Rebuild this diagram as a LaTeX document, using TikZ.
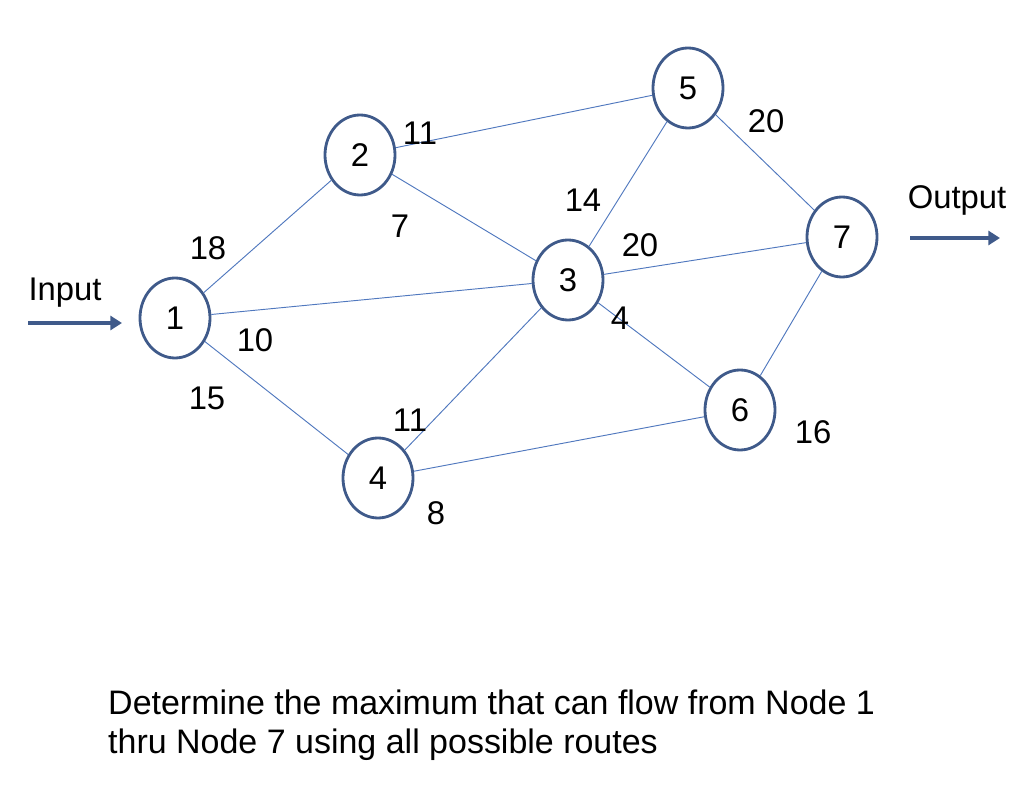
\documentclass[tikz,border=0pt]{standalone}
\usepackage{fontspec}
\setmainfont{Liberation Sans}
\usetikzlibrary{shapes.geometric,arrows.meta}
\begin{document}
\begin{tikzpicture}[x=0.03cm,y=-0.03cm,
 nd/.style={ellipse,draw=nodeblue,line width=2.4pt,minimum width=2.1cm,minimum height=2.4cm,inner sep=0pt,font=\fontsize{28}{32}\selectfont},
 ed/.style={draw=edgeblue,line width=0.8pt},
 lb/.style={font=\fontsize{28}{32}\selectfont,inner sep=0pt},
 big/.style={-{Triangle[length=10pt,width=12pt]},draw=nodeblue,fill=nodeblue,line width=4pt}]
\definecolor{nodeblue}{HTML}{3F5A8A}
\definecolor{edgeblue}{HTML}{5078BE}
\useasboundingbox (0,0) rectangle (1024,797);
\node[nd] (n1) at (175,318) {1};
\node[nd] (n2) at (360,155) {2};
\node[nd] (n3) at (568,280) {3};
\node[nd] (n4) at (378,478) {4};
\node[nd] (n5) at (688,88) {5};
\node[nd] (n6) at (740,410) {6};
\node[nd] (n7) at (842,237) {7};
\draw[ed] (n1)--(n2); \draw[ed] (n1)--(n3); \draw[ed] (n1)--(n4);
\draw[ed] (n2)--(n5); \draw[ed] (n2)--(n3); \draw[ed] (n4)--(n3);
\draw[ed] (n4)--(n6); \draw[ed] (n3)--(n5); \draw[ed] (n3)--(n7);
\draw[ed] (n3)--(n6); \draw[ed] (n5)--(n7); \draw[ed] (n6)--(n7);
\node[lb] (l1) at (208,248) {18};
\node[lb] (l2) at (255,340) {10};
\node[lb] (l3) at (207,398) {15};
\node[lb] (l4) at (420,133) {11};
\node[lb] (l5) at (400,226) {7};
\node[lb] (l6) at (583,200) {14};
\node[lb] (l7) at (640,245) {20};
\node[lb] (l8) at (620,318) {4};
\node[lb] (l9) at (410,420) {11};
\node[lb] (l10) at (436,513) {8};
\node[lb] (l11) at (766,121) {20};
\node[lb] (l12) at (813,432) {16};
\node[lb] (in) at (65,293) {Input};
\node[lb] (out) at (957,200) {Output};
\coordinate (a1) at (28,323); \coordinate (a2) at (122,323);
\coordinate (b1) at (910,238); \coordinate (b2) at (1000,238);
\draw[big] (a1)--(a2);
\draw[big] (b1)--(b2);
\node[lb,anchor=north west,align=left,font=\fontsize{29}{33}\selectfont] (t) at (108,690) {Determine the maximum that can flow from Node 1\\thru Node 7 using all possible routes};
\end{tikzpicture}
\end{document}
